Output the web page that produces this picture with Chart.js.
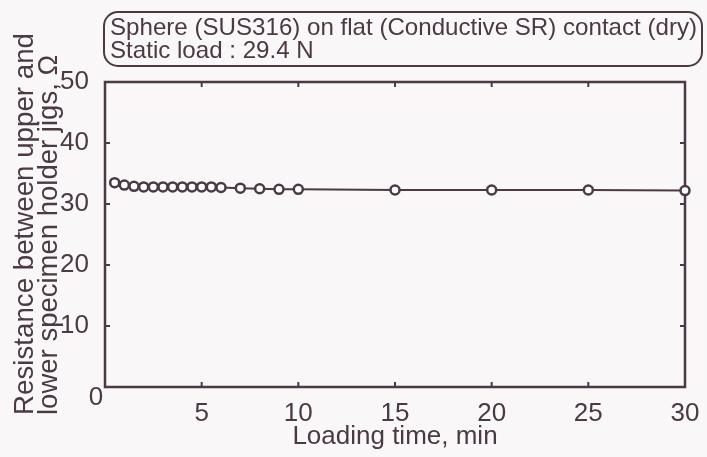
<!DOCTYPE html>
<html>
<head>
<meta charset="utf-8">
<script src="https://cdn.jsdelivr.net/npm/chart.js@4.4.1/dist/chart.umd.min.js"></script>
<style>
  html, body { margin: 0; padding: 0; background: #f9f7f7; }
  #wrap { width: 707px; height: 457px; }
</style>
</head>
<body>
<div id="wrap"><canvas id="resistChart" width="707" height="457"></canvas></div>
<script>
// loading time (min) and measured resistance (ohm)
const loadingTime = [0.5, 1, 1.5, 2, 2.5, 3, 3.5, 4, 4.5, 5, 5.5, 6, 7, 8, 9, 10, 15, 20, 25, 30];
const resistance = [33.5, 33.1, 32.9, 32.8, 32.8, 32.8, 32.8, 32.8, 32.8, 32.8, 32.8, 32.7, 32.6, 32.5, 32.4, 32.4, 32.3, 32.3, 32.3, 32.2];
const xTicks = [0, 5, 10, 15, 20, 25, 30];
const yTicks = [0, 10, 20, 30, 40, 50];

const titleLines = ['Sphere (SUS316) on flat (Conductive SR) contact (dry)', 'Static load : 29.4 N'];
const yTitleLines = ['Resistance between upper and', 'lower specimen holder jigs, \u03A9'];
const xTitle = 'Loading time, min';

const ink = '#4b3a45';
const FONT = '"Liberation Sans", Arial, sans-serif';

function fitText(ctx, text, x, y, width, angle) {
  const w = ctx.measureText(text).width;
  ctx.save();
  ctx.translate(x, y);
  if (angle) ctx.rotate(angle);
  ctx.scale(width / w, 1);
  ctx.fillText(text, 0, 0);
  ctx.restore();
}

const frame = {
  id: 'frame',
  beforeDatasetsDraw(chart) {
    const { ctx, chartArea: a, scales } = chart;
    ctx.save();
    ctx.strokeStyle = ink;
    ctx.lineWidth = 2.5;
    ctx.strokeRect(a.left, a.top, a.right - a.left, a.bottom - a.top);
    // inward tick marks on all four sides
    ctx.lineWidth = 2;
    const len = 5;
    xTicks.forEach(v => {
      const px = scales.x.getPixelForValue(v);
      ctx.beginPath();
      ctx.moveTo(px, a.bottom); ctx.lineTo(px, a.bottom - len);
      ctx.moveTo(px, a.top); ctx.lineTo(px, a.top + len);
      ctx.stroke();
    });
    yTicks.forEach(v => {
      const py = scales.y.getPixelForValue(v);
      ctx.beginPath();
      ctx.moveTo(a.left, py); ctx.lineTo(a.left + len, py);
      ctx.moveTo(a.right, py); ctx.lineTo(a.right - len, py);
      ctx.stroke();
    });
    ctx.restore();
  },
  afterDraw(chart) {
    const { ctx, chartArea: a } = chart;
    ctx.save();
    ctx.fillStyle = ink;
    ctx.strokeStyle = ink;

    // title box
    ctx.lineWidth = 2;
    ctx.beginPath();
    ctx.roundRect(104, 12, 598, 54, 14);
    ctx.stroke();
    ctx.font = '24px ' + FONT;
    ctx.textBaseline = 'alphabetic';
    ctx.textAlign = 'left';
    const sx = 587 / ctx.measureText(titleLines[0]).width;
    ctx.save(); ctx.translate(110, 35); ctx.scale(sx, 1); ctx.fillText(titleLines[0], 0, 0); ctx.restore();
    ctx.save(); ctx.translate(110, 58); ctx.scale(sx, 1); ctx.fillText(titleLines[1], 0, 0); ctx.restore();

    // y axis title, two lines starting at the bottom
    ctx.font = '28px ' + FONT;
    fitText(ctx, yTitleLines[0], 33, 415, 382, -Math.PI / 2);
    fitText(ctx, yTitleLines[1], 57, 415, 360, -Math.PI / 2);

    // x axis title
    ctx.font = '26px ' + FONT;
    ctx.textAlign = 'center';
    ctx.fillText(xTitle, (a.left + a.right) / 2, 444);

    // shared origin label
    ctx.textBaseline = 'middle';
    ctx.fillText('0', 96, 398);
    ctx.restore();
  }
};

new Chart(document.getElementById('resistChart'), {
  type: 'line',
  data: {
    datasets: [{
      data: loadingTime.map((t, i) => ({ x: t, y: resistance[i] })),
      borderColor: ink,
      borderWidth: 2,
      tension: 0,
      pointRadius: 4.5,
      pointBorderWidth: 2.5,
      pointBackgroundColor: '#ffffff',
      pointBorderColor: ink,
      clip: false
    }]
  },
  options: {
    responsive: false,
    devicePixelRatio: 1,
    animation: false,
    layout: { padding: { top: 82, right: 22, bottom: 0, left: 0 } },
    plugins: { legend: { display: false }, tooltip: { enabled: false } },
    scales: {
      x: {
        type: 'linear', min: 0, max: 30,
        afterBuildTicks: s => { s.ticks = xTicks.map(v => ({ value: v })); },
        afterFit: s => { s.height = 70; },
        grid: { display: false },
        border: { display: false },
        ticks: {
          color: ink, padding: 3, maxRotation: 0,
          font: { family: FONT, size: 26 },
          callback: v => v === 0 ? '' : v
        }
      },
      y: {
        type: 'linear', min: 0, max: 50,
        afterBuildTicks: s => { s.ticks = yTicks.map(v => ({ value: v })); },
        afterFit: s => { s.width = 105; },
        grid: { display: false },
        border: { display: false },
        ticks: {
          color: ink, padding: 8,
          font: { family: FONT, size: 26 },
          callback: v => v === 0 ? '' : v
        }
      }
    }
  },
  plugins: [frame]
});
</script>
</body>
</html>
